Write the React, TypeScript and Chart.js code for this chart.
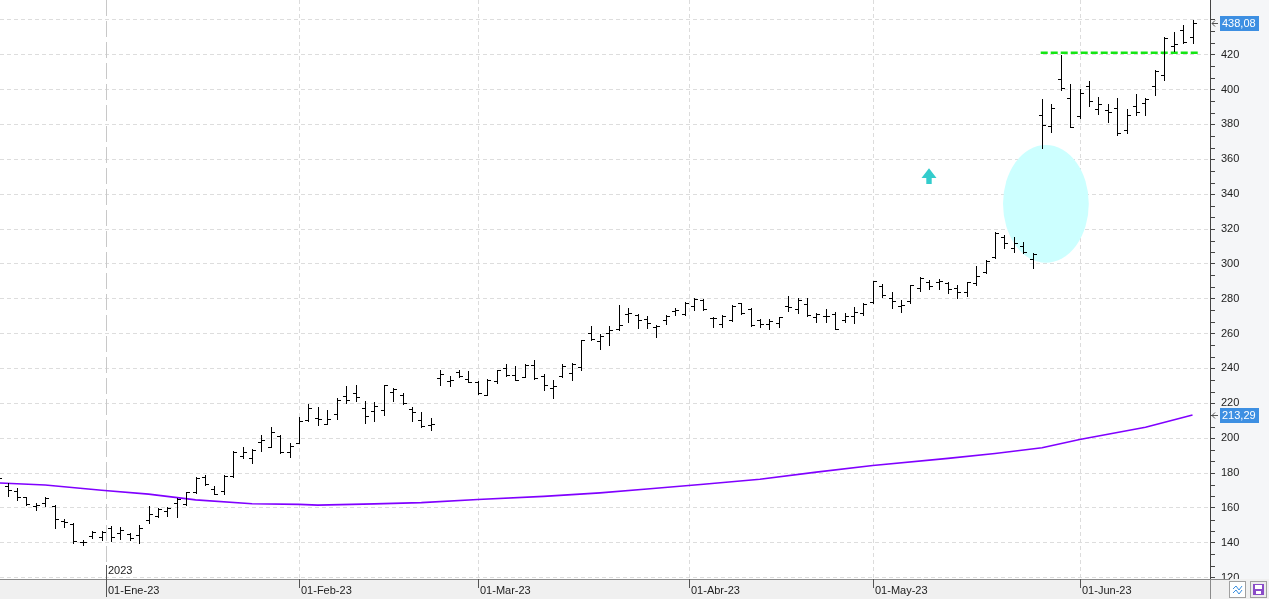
import React, { useEffect, useRef } from 'react';
import { Chart, registerables } from 'chart.js';

Chart.register(...registerables);

// ---- data (daily OHLC, index 0 = 14-Dic-22) ----
const dates = [
  '14-Dic-22','15-Dic-22','16-Dic-22','19-Dic-22','20-Dic-22','21-Dic-22','22-Dic-22','23-Dic-22','27-Dic-22','28-Dic-22','29-Dic-22','30-Dic-22',
  '03-Ene-23','04-Ene-23','05-Ene-23','06-Ene-23','09-Ene-23','10-Ene-23','11-Ene-23','12-Ene-23','13-Ene-23','17-Ene-23','18-Ene-23','19-Ene-23','20-Ene-23','23-Ene-23','24-Ene-23','25-Ene-23','26-Ene-23','27-Ene-23','30-Ene-23','31-Ene-23',
  '01-Feb-23','02-Feb-23','03-Feb-23','06-Feb-23','07-Feb-23','08-Feb-23','09-Feb-23','10-Feb-23','13-Feb-23','14-Feb-23','15-Feb-23','16-Feb-23','17-Feb-23','21-Feb-23','22-Feb-23','23-Feb-23','24-Feb-23','27-Feb-23','28-Feb-23',
  '01-Mar-23','02-Mar-23','03-Mar-23','06-Mar-23','07-Mar-23','08-Mar-23','09-Mar-23','10-Mar-23','13-Mar-23','14-Mar-23','15-Mar-23','16-Mar-23','17-Mar-23','20-Mar-23','21-Mar-23','22-Mar-23','23-Mar-23','24-Mar-23','27-Mar-23','28-Mar-23','29-Mar-23','30-Mar-23','31-Mar-23',
  '03-Abr-23','04-Abr-23','05-Abr-23','06-Abr-23','10-Abr-23','11-Abr-23','12-Abr-23','13-Abr-23','14-Abr-23','17-Abr-23','18-Abr-23','19-Abr-23','20-Abr-23','21-Abr-23','24-Abr-23','25-Abr-23','26-Abr-23','27-Abr-23','28-Abr-23',
  '01-May-23','02-May-23','03-May-23','04-May-23','05-May-23','08-May-23','09-May-23','10-May-23','11-May-23','12-May-23','15-May-23','16-May-23','17-May-23','18-May-23','19-May-23','22-May-23','23-May-23','24-May-23','25-May-23','26-May-23','30-May-23','31-May-23',
  '01-Jun-23','02-Jun-23','05-Jun-23','06-Jun-23','07-Jun-23','08-Jun-23','09-Jun-23','12-Jun-23','13-Jun-23','14-Jun-23','15-Jun-23','16-Jun-23','20-Jun-23',
];

const opens = [
  180, 172.5, 169.5, 166, 161.2, 163, 161, 152.5, 150.7, 140.6, 144, 143.4,
  148.5, 145.7, 144.9, 144.7, 152.8, 155.1, 158.5, 163, 162.5, 169.2, 177.5, 171, 169.5, 178.5, 190, 188.5, 198, 195, 201.5, 192,
  197.5, 210.2, 211.5, 208.3, 214, 224.4, 226, 217.3, 215.4, 216.4, 226.3, 225, 216.9, 210.6, 207.5, 234.5, 232.6, 237.8, 234,
  232.1, 225, 232.6, 240.3, 236, 235, 242.2, 235.5, 229, 235.5, 237.4, 240.9, 260.3, 256, 260.5, 262.8, 271, 270.8, 268.5, 264, 268, 273, 271.4,
  275.9, 279.3, 269, 265.5, 267.8, 277.4, 274.2, 267.8, 265.5, 265.9, 276, 274, 277, 269.8, 270, 271.3, 268, 270, 272,
  278.4, 287.4, 280.5, 276, 278.6, 286.2, 289.7, 289.5, 289.1, 286, 284, 289.1, 295.6, 304.2, 315.7, 309, 310.3, 302.7, 385.5, 379.2, 406.2, 395.1,
  385, 401.8, 388.8, 388.4, 389.4, 376.6, 390.7, 392.2, 402.2, 408.5, 425, 434.4, 430,
];
const highs = [
  182, 174.1, 171.2, 166.4, 163, 166.4, 161.6, 153.4, 151.1, 141.6, 146.9, 146.7,
  149.8, 148.8, 145.4, 150.2, 161, 159.7, 160.3, 165.8, 169.3, 177.5, 178.8, 172.5, 178.7, 192.6, 195.1, 193.8, 201.8, 206.2, 201.8, 197.4,
  212.2, 219.8, 217.9, 216.4, 223.1, 229.8, 230.7, 221.1, 220.8, 230.7, 228.8, 225.9, 217.7, 215, 211.6, 239.3, 235.5, 239.3, 238.8,
  233, 234, 239.3, 242.8, 241.6, 242.6, 245.1, 237, 233.2, 242.6, 243.2, 256.6, 264.1, 259.9, 264.1, 276.2, 274.8, 271.4, 269.9, 264.7, 270.8, 274.8, 278.1,
  280.3, 279.9, 269.8, 270.7, 276.5, 277.8, 274.5, 268.4, 268.4, 269.8, 281.7, 280.3, 280.3, 271.7, 274, 272.6, 271.7, 275.5, 277.4,
  290.4, 288.5, 283.9, 279.5, 288.1, 292.5, 290.6, 291.4, 289.7, 288.1, 289.7, 299, 302.3, 318.2, 316.3, 315.7, 312.8, 306.1, 394.7, 391.7, 419.6, 403.3,
  400.5, 405.1, 395.5, 391.7, 395.1, 388.8, 397.4, 395.1, 411, 430.1, 433, 437.2, 440.1,
];
const lows = [
  175.5, 166.8, 164.5, 161.6, 158.8, 161, 148.6, 149.2, 140, 138.7, 142.5, 141.6,
  141.1, 142, 141.6, 140, 151.5, 155, 155.3, 155, 161.6, 168.7, 173, 168, 168, 177.9, 188.4, 185.9, 192.8, 194.7, 191.6, 189.4,
  197, 209.7, 207.8, 208.1, 211.2, 220.2, 221.1, 208.7, 209.7, 213.5, 221.1, 219.8, 209.7, 206.6, 204.5, 230.3, 229.8, 234.9, 232.1,
  225.4, 224.5, 231.7, 235.5, 233.2, 234.9, 234, 227.5, 223.1, 235.1, 233.6, 238.9, 256.5, 251.3, 253.6, 262.2, 266.6, 263.2, 263.2, 258, 265.6, 270.8, 270.8,
  273.6, 273.6, 264, 264, 267.5, 271.1, 264.6, 263.6, 262.5, 264, 273.2, 272.1, 270.1, 266.9, 266.9, 262.5, 266.9, 266.3, 270.7,
  277.8, 280.9, 274.4, 272.2, 277.6, 284.3, 285.3, 285.3, 283.3, 280.5, 281.4, 288.1, 294.6, 303.3, 309, 306.7, 306.1, 297.9, 366.4, 375.6, 399.5, 378.3,
  383.6, 390.7, 385.9, 381.3, 373.7, 375, 385.5, 385.5, 397, 405.3, 421.9, 426.7, 426.7,
];
const closes = [
  177.1, 170, 166.3, 162.3, 161.5, 165.4, 153.4, 152.1, 141.2, 140.4, 146, 146.1,
  143.2, 147.5, 142.7, 148.6, 156.3, 159.1, 160, 165.1, 169, 177, 173.8, 168.1, 178.4, 192.2, 192.2, 193.2, 198.7, 203.7, 192, 195.4,
  209.6, 217.2, 210.8, 211.2, 222.1, 222, 223.6, 212.5, 218.3, 230.3, 228.2, 220.2, 214.8, 206.8, 208, 237, 233.6, 235.5, 232.3,
  225.9, 233.6, 239, 236, 233.4, 242.2, 234.5, 230.3, 230, 241.2, 242.6, 256.2, 257, 258.9, 261.8, 264.7, 271.9, 267.6, 266, 264.1, 270, 273.8, 277.7,
  279.9, 274, 268.8, 270.3, 276.1, 271.7, 265, 265.5, 267, 269.5, 275.5, 279.3, 270.7, 271.3, 270.3, 262.7, 270.1, 272.6, 277,
  289.9, 282.2, 278.6, 276.6, 287.6, 292, 287.2, 289.9, 285.8, 284, 289.5, 293.3, 301.7, 317.6, 312.2, 311.9, 307.1, 305.6, 379.8, 389.4, 401.1, 378.3,
  398, 393.6, 391.7, 387.1, 375, 385.5, 387.4, 394.5, 410.8, 429.6, 426.3, 427.3, 438.08,
];

// 200-session moving average, read at sample bars
const maIdx = [0, 5, 11, 16, 21, 27, 32, 34, 40, 45, 51, 58, 64, 69, 75, 81, 87, 93, 101, 106, 111, 115, 118, 122, 127];
const maVal = [174.3, 173.1, 170.1, 167.9, 164.6, 162.4, 162, 161.6, 162.3, 163, 164.8, 166.6, 168.6, 170.8, 173.6, 176.4, 180.5, 184.3, 188.4, 191.2, 194.5, 199.2, 202.2, 206.3, 213.29];

// axis ticks (bar index positions of month starts)
const monthTickIdx = [11.5, 32, 51, 73.5, 93, 115];
const monthTickLabels = ['01-Ene-23', '01-Feb-23', '01-Mar-23', '01-Abr-23', '01-May-23', '01-Jun-23'];
const yearLabel = '2023';

// annotations
const resistanceIdx = [110.86, 127.73];
const resistanceVal = [421.2, 421.2];
const ellipseIdx = [106.85, 115.97];
const ellipseVal = [300.7, 368.2];
const arrowIdx = 99;
const arrowVal = [345.9, 354.9];
const lastPrice = 438.08;
const lastMA = 213.29;

const FONT = '11px "Liberation Sans", Arial, sans-serif';

const fmt = (v: number) => v.toFixed(2).replace('.', ',');

const overlayPlugin = {
  id: 'overlay',
  beforeDraw(chart: any) {
    const { ctx, width, height, chartArea: ca } = chart;
    ctx.save();
    ctx.fillStyle = '#ffffff';
    ctx.fillRect(0, 0, width, height);
    ctx.fillStyle = '#f5f6f8';
    ctx.fillRect(ca.right, 0, width - ca.right, ca.bottom);
    ctx.restore();
  },
  beforeDatasetsDraw(chart: any) {
    const { ctx, chartArea: ca, scales } = chart;
    const x = scales.x, y = scales.y;
    ctx.save();
    ctx.beginPath();
    ctx.rect(ca.left, ca.top, ca.width, ca.height);
    ctx.clip();
    monthTickIdx.forEach((v, i) => {
      const px = Math.round(x.getPixelForValue(v)) + 0.5;
      ctx.beginPath();
      ctx.lineWidth = 1;
      ctx.strokeStyle = i === 0 ? '#c8c8c8' : '#dcdcdc';
      ctx.setLineDash(i === 0 ? [16, 5] : [4, 3]);
      ctx.moveTo(px, ca.top);
      ctx.lineTo(px, ca.bottom);
      ctx.stroke();
    });
    ctx.setLineDash([]);
    // highlight ellipse
    const x0 = x.getPixelForValue(ellipseIdx[0]);
    const x1 = x.getPixelForValue(ellipseIdx[1]);
    const y0 = y.getPixelForValue(ellipseVal[1]);
    const y1 = y.getPixelForValue(ellipseVal[0]);
    ctx.beginPath();
    ctx.fillStyle = '#ccffff';
    ctx.ellipse((x0 + x1) / 2, (y0 + y1) / 2, (x1 - x0) / 2, (y1 - y0) / 2, 0, 0, Math.PI * 2);
    ctx.fill();
    ctx.restore();
  },
  afterDatasetsDraw(chart: any) {
    const { ctx, chartArea: ca, scales } = chart;
    const x = scales.x, y = scales.y;
    ctx.save();
    ctx.beginPath();
    ctx.rect(ca.left, ca.top, ca.width, ca.height);
    ctx.clip();
    ctx.fillStyle = '#000000';
    for (let i = 0; i < opens.length; i++) {
      const xc = Math.round(x.getPixelForValue(i));
      const yh = Math.round(y.getPixelForValue(highs[i]));
      const yl = Math.round(y.getPixelForValue(lows[i]));
      const yo = Math.round(y.getPixelForValue(opens[i]));
      const yc = Math.round(y.getPixelForValue(closes[i]));
      ctx.fillRect(xc, yh, 1, Math.max(2, yl - yh + 1));
      ctx.fillRect(xc - 3, yo, 3, 1);
      ctx.fillRect(xc + 1, yc, 3, 1);
    }
    // arrow
    const ax = Math.round(x.getPixelForValue(arrowIdx));
    const yTop = y.getPixelForValue(arrowVal[1]);
    const yBot = y.getPixelForValue(arrowVal[0]);
    const headH = (yBot - yTop) * 0.62;
    ctx.fillStyle = '#33cccc';
    ctx.beginPath();
    ctx.moveTo(ax, yTop);
    ctx.lineTo(ax + 7.5, yTop + headH);
    ctx.lineTo(ax + 2.7, yTop + headH);
    ctx.lineTo(ax + 2.7, yBot);
    ctx.lineTo(ax - 2.7, yBot);
    ctx.lineTo(ax - 2.7, yTop + headH);
    ctx.lineTo(ax - 7.5, yTop + headH);
    ctx.closePath();
    ctx.fill();
    ctx.restore();
  },
  afterDraw(chart: any) {
    const { ctx, width, height, chartArea: ca, scales } = chart;
    const x = scales.x, y = scales.y;
    ctx.save();
    // minor ticks on price axis
    ctx.strokeStyle = '#444';
    ctx.lineWidth = 1;
    for (let v = 120; v < 460; v += 20) {
      for (let k = 1; k <= 2; k++) {
        const mv = v - (20 / 3) * k;
        if (mv < y.min || mv > y.max) continue;
        const py = Math.round(y.getPixelForValue(mv)) + 0.5;
        ctx.beginPath();
        ctx.moveTo(ca.right, py);
        ctx.lineTo(ca.right + 5, py);
        ctx.stroke();
      }
    }
    // year label and tick
    const yx = Math.round(x.getPixelForValue(monthTickIdx[0])) + 0.5;
    ctx.strokeStyle = '#555';
    ctx.beginPath();
    ctx.moveTo(yx, ca.bottom - 14);
    ctx.lineTo(yx, ca.bottom);
    ctx.stroke();
    ctx.font = FONT;
    ctx.fillStyle = '#222';
    ctx.textBaseline = 'middle';
    ctx.textAlign = 'left';
    ctx.fillText(yearLabel, yx + 1.5, ca.bottom - 8.5);

    // bottom band
    ctx.fillStyle = '#f0f0f0';
    ctx.fillRect(0, ca.bottom, width, height - ca.bottom);
    ctx.strokeStyle = '#8a8a8a';
    ctx.beginPath();
    ctx.moveTo(0, ca.bottom + 0.5);
    ctx.lineTo(ca.right + 20, ca.bottom + 0.5);
    ctx.moveTo(ca.right + 0.5, ca.bottom);
    ctx.lineTo(ca.right + 0.5, height);
    ctx.stroke();
    monthTickIdx.forEach((v, i) => {
      const px = Math.round(x.getPixelForValue(v)) + 0.5;
      ctx.strokeStyle = '#555';
      ctx.beginPath();
      ctx.moveTo(px, ca.bottom);
      ctx.lineTo(px, ca.bottom + (i === 0 ? 18 : 9));
      ctx.stroke();
      ctx.fillStyle = '#222';
      ctx.fillText(monthTickLabels[i], px + 1.5, ca.bottom + 12);
    });

    // value boxes on price axis
    const box = (val: number, color: string) => {
      const py = Math.round(y.getPixelForValue(val));
      ctx.fillStyle = color;
      ctx.fillRect(ca.right + 10, py - 7, 39, 15);
      ctx.fillStyle = '#ffffff';
      ctx.textAlign = 'left';
      ctx.fillText(fmt(val), ca.right + 12, py + 1);
      ctx.strokeStyle = '#555';
      ctx.beginPath();
      ctx.moveTo(ca.right + 2, py + 0.5);
      ctx.lineTo(ca.right + 8, py + 0.5);
      ctx.moveTo(ca.right + 2, py + 0.5);
      ctx.lineTo(ca.right + 5, py - 2.5);
      ctx.moveTo(ca.right + 2, py + 0.5);
      ctx.lineTo(ca.right + 5, py + 3.5);
      ctx.stroke();
    };
    box(lastPrice, '#3d8fe2');
    box(lastMA, '#3d8fe2');

    // little toolbar icons
    const bx1 = width - 40, bx2 = width - 19, by = ca.bottom + 2;
    ctx.fillStyle = '#ffffff';
    ctx.fillRect(bx1, by, 17, 17);
    ctx.strokeStyle = '#a0a0a0';
    ctx.strokeRect(bx1 + 0.5, by + 0.5, 16, 16);
    ctx.strokeStyle = '#3b8fe0';
    ctx.beginPath();
    ctx.moveTo(bx1 + 4, by + 8); ctx.lineTo(bx1 + 7, by + 5); ctx.lineTo(bx1 + 10, by + 9); ctx.lineTo(bx1 + 13, by + 5);
    ctx.moveTo(bx1 + 4, by + 12); ctx.lineTo(bx1 + 7, by + 9); ctx.lineTo(bx1 + 10, by + 13); ctx.lineTo(bx1 + 13, by + 9);
    ctx.stroke();
    ctx.fillStyle = '#ececec';
    ctx.fillRect(bx2, by, 17, 17);
    ctx.strokeStyle = '#a0a0a0';
    ctx.strokeRect(bx2 + 0.5, by + 0.5, 16, 16);
    ctx.fillStyle = '#8a4cc8';
    ctx.fillRect(bx2 + 3, by + 3, 11, 11);
    ctx.fillStyle = '#ffffff';
    ctx.fillRect(bx2 + 5, by + 4, 7, 4);
    ctx.fillRect(bx2 + 6, by + 10, 5, 3);
    ctx.restore();
  },
};

export default function App() {
  const ref = useRef<HTMLCanvasElement | null>(null);
  useEffect(() => {
    document.body.style.margin = '0';
    const canvas = ref.current;
    if (!canvas) return;
    const chart = new Chart(canvas, {
      type: 'line',
      data: {
        datasets: [
          {
            label: 'MM200',
            data: maIdx.map((v, i) => ({ x: v, y: maVal[i] })),
            borderColor: '#8000ff',
            borderWidth: 1.6,
            pointRadius: 0,
            tension: 0,
            fill: false,
          },
          {
            label: 'Resistencia',
            data: resistanceIdx.map((v, i) => ({ x: v, y: resistanceVal[i] })),
            borderColor: '#14e614',
            borderWidth: 2.5,
            borderDash: [7, 3],
            pointRadius: 0,
            fill: false,
          },
        ],
      },
      options: {
        animation: false,
        responsive: false,
        devicePixelRatio: 1,
        layout: { padding: { left: 0, top: 0, right: 0, bottom: 20 } },
        plugins: { legend: { display: false }, tooltip: { enabled: false } },
        scales: {
          x: {
            type: 'linear',
            min: 0.197,
            max: 128.86,
            display: false,
          },
          y: {
            position: 'right',
            min: 119.2,
            max: 451.4,
            afterFit: (s: any) => {
              s.width = 59;
              s.paddingTop = 0;
              s.paddingBottom = 0;
            },
            ticks: {
              stepSize: 20,
              includeBounds: false,
              padding: 6,
              color: '#222',
              font: { family: '"Liberation Sans", Arial, sans-serif', size: 11 },
              callback: (v: any) => (v >= 440 ? '' : String(v)),
            },
            grid: {
              color: '#dddddd',
              tickColor: '#444',
              tickLength: 5,
              tickBorderDash: [],
            },
            border: { color: '#444', dash: [4, 3] },
          },
        },
      },
      plugins: [overlayPlugin],
    } as any);
    return () => chart.destroy();
  }, []);
  return (
    <div style={{ position: 'absolute', left: 0, top: 0, width: 1269, height: 599 }}>
      <canvas ref={ref} width={1269} height={599} style={{ display: 'block', width: 1269, height: 599 }} />
    </div>
  );
}
